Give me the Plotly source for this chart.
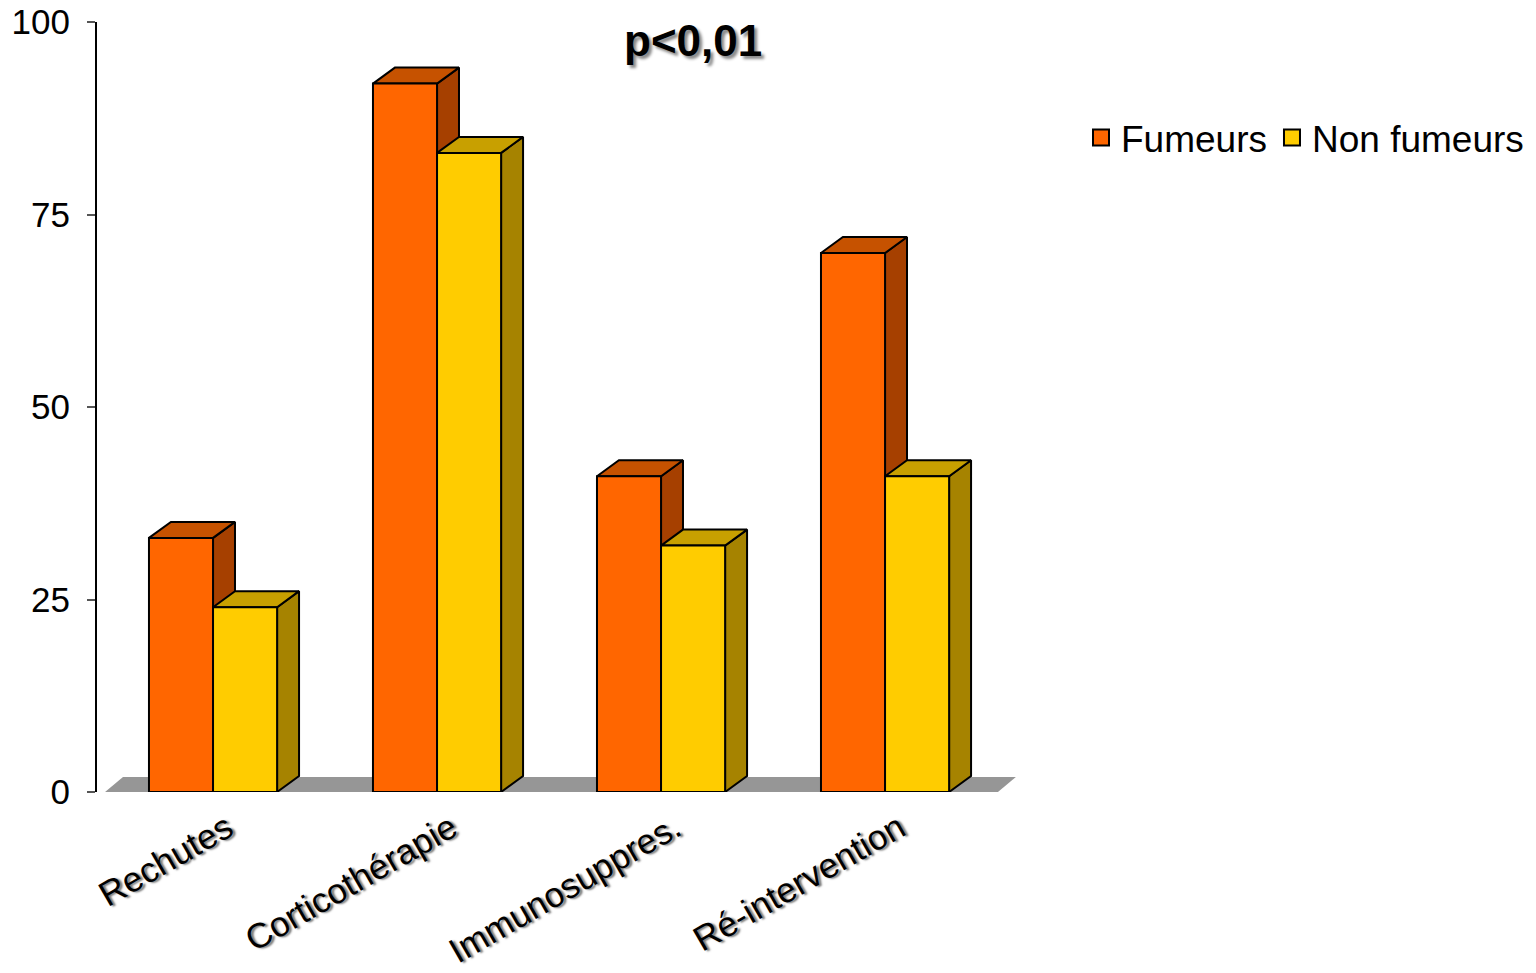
import plotly.graph_objects as go

categories = ["Rechutes", "Corticothérapie", "Immunosuppres.", "Ré-intervention"]
fumeurs = [33, 92, 41, 70]
non_fumeurs = [24, 83, 32, 41]
series_names = ["Fumeurs", "Non fumeurs"]
y_ticks = [0, 25, 50, 75, 100]

# style / geometry (in axis units)
BAR_W = 0.286
DEPTH_X = 0.098
DEPTH_Y = 2.08
FONT = "Liberation Sans, Arial, sans-serif"

colors = {
    "Fumeurs": {"front": "#FF6600", "top": "#C65200", "side": "#A64000"},
    "Non fumeurs": {"front": "#FFCC00", "top": "#C8A000", "side": "#A68300"},
}

def faces(values, offset):
    fx, fy, tx, ty, sx, sy = [], [], [], [], [], []
    for i, v in enumerate(values):
        x0 = i + offset
        x1 = x0 + BAR_W
        fx += [x0, x0, x1, x1, x0, None]
        fy += [0, v, v, 0, 0, None]
        tx += [x0, x0 + DEPTH_X, x1 + DEPTH_X, x1, x0, None]
        ty += [v, v + DEPTH_Y, v + DEPTH_Y, v, v, None]
        sx += [x1, x1 + DEPTH_X, x1 + DEPTH_X, x1, x1, None]
        sy += [0, DEPTH_Y, v + DEPTH_Y, v, 0, None]
    return (fx, fy), (tx, ty), (sx, sy)

fig = go.Figure()

# floor
n = len(categories)
fl0, fl1 = -0.482, n - 1 + 0.504
fdx, fdy = 0.080, 1.95
fig.add_trace(go.Scatter(
    x=[fl0, fl1, fl1 + fdx, fl0 + fdx, fl0], y=[0, 0, fdy, fdy, 0],
    mode="lines", fill="toself", fillcolor="#969696", line=dict(width=0),
    showlegend=False, hoverinfo="skip"))

line = dict(color="black", width=2)
for name, vals, off in [("Fumeurs", fumeurs, -BAR_W), ("Non fumeurs", non_fumeurs, 0.0)]:
    (fx, fy), (tx, ty), (sx, sy) = faces(vals, off)
    c = colors[name]
    fig.add_trace(go.Scatter(x=sx, y=sy, mode="lines", fill="toself", fillcolor=c["side"],
                             line=line, showlegend=False, hoverinfo="skip"))
    fig.add_trace(go.Scatter(x=tx, y=ty, mode="lines", fill="toself", fillcolor=c["top"],
                             line=line, showlegend=False, hoverinfo="skip"))
    fig.add_trace(go.Scatter(x=fx, y=fy, mode="lines", fill="toself", fillcolor=c["front"],
                             line=line, showlegend=False, name=name))
    fig.add_trace(go.Scatter(x=[None], y=[None], mode="markers", name=name,
                             marker=dict(symbol="square", size=19, color=c["front"],
                                         line=dict(color="black", width=2)),
                             showlegend=True))

fig.update_layout(
    width=1536, height=973,
    margin=dict(l=89, r=525, t=14, b=189, autoexpand=False),
    plot_bgcolor="white", paper_bgcolor="white",
    font=dict(family=FONT, color="black", size=36),
    showlegend=True,
    legend=dict(orientation="h", xref="container", yref="container",
                x=1073 / 1536, xanchor="left", y=1 - 130 / 973, yanchor="middle",
                font=dict(size=37, family=FONT), itemwidth=30, tracegroupgap=0,
                bgcolor="rgba(0,0,0,0)"),
    xaxis=dict(range=[-0.518, 3.598], tickvals=list(range(n)), ticktext=categories,
               tickangle=-30, showgrid=False, zeroline=False, showline=False, ticks="",
               tickfont=dict(size=35, family=FONT, shadow="2px 2px 2px #777"),
               ticklabelshift=14, ticklabelstandoff=8, ticklabeloverflow="allow",
               fixedrange=True),
    yaxis=dict(range=[0, 100], tickvals=y_ticks, showgrid=False, zeroline=False,
               showline=True, linecolor="black", linewidth=2, ticks="outside",
               ticklen=8, tickwidth=1.5, tickcolor="#555", ticklabelstandoff=10,
               ticklabeloverflow="allow",
               tickfont=dict(size=35, family=FONT), fixedrange=True),
    annotations=[dict(text="<b>p<0,01</b>", xref="paper", yref="paper",
                      x=(693 - 97) / 922, y=1 - (40 - 22) / 770, xanchor="center",
                      yanchor="middle", showarrow=False,
                      font=dict(size=44, family=FONT, color="black",
                                shadow="3px 3px 3px #888"))],
)

fig.write_html("out.html")
